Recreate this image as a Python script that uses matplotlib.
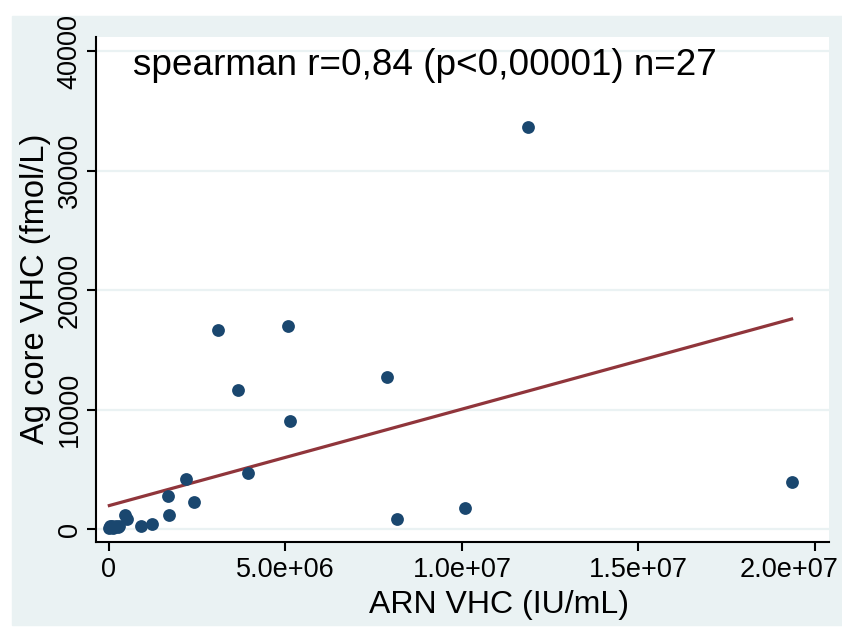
import matplotlib
matplotlib.use("Agg")
import matplotlib.pyplot as plt
from matplotlib.patches import Rectangle
from matplotlib.transforms import ScaledTranslation

plt.rcParams['font.family'] = ['Liberation Sans', 'DejaVu Sans']

# ARN VHC (IU/mL, millions) vs Ag core VHC (fmol/L, thousands)
arn_mio = [11.88, 19.34, 3.10, 5.07, 3.65, 7.88, 5.13, 3.95, 2.17,
           1.68, 2.41, 1.71, 1.21, 0.90, 0.45, 0.50, 8.17, 10.08,
           0.01, 0.03, 0.06, 0.09, 0.12, 0.15, 0.20, 0.25, 0.28]
ag_k = [33.64, 3.94, 16.69, 17.03, 11.64, 12.78, 9.10, 4.69, 4.25,
        2.81, 2.31, 1.19, 0.44, 0.25, 1.19, 0.86, 0.86, 1.76,
        0.12, 0.25, 0.18, 0.30, 0.15, 0.22, 0.28, 0.20, 0.31]

# fitted line
fit_x_mio = [0.01, 19.34]
fit_y_k = [1.99, 17.60]

x_ticks = [0, 5e6, 1e7, 1.5e7, 2e7]
x_ticklabels = ['0', '5.0e+06', '1.0e+07', '1.5e+07', '2.0e+07']
y_ticks = [0, 10000, 20000, 30000, 40000]
y_ticklabels = ['0', '10000', '20000', '30000', '40000']

stat_text = "spearman r=0,84 (p<0,00001) n=27"

x = [v * 1e6 for v in arn_mio]
y = [v * 1e3 for v in ag_k]

fig = plt.figure(figsize=(8.42, 6.32), dpi=100)
fig.patch.set_facecolor('white')
fig.patches.append(Rectangle((12 / 842, 1 - 625 / 632), 830 / 842, 609 / 632,
                             transform=fig.transFigure, color='#EAF2F3', zorder=-1))

ax = fig.add_axes([96 / 842, 1 - 541.5 / 632, 733 / 842, 504.5 / 632])
ax.set_facecolor('white')

ax.scatter(x, y, s=85, color='#1A476F', linewidths=0, zorder=3)
ax.plot([v * 1e6 for v in fit_x_mio], [v * 1e3 for v in fit_y_k],
        color='#90353B', lw=2.3, zorder=2)

ax.set_xlim(-0.368e6, 20.40e6)
ax.set_ylim(-1020, 41200)

ax.set_xticks(x_ticks, x_ticklabels)
ax.set_yticks(y_ticks, y_ticklabels)
ax.tick_params(axis='both', direction='out', length=6.5, width=1.5,
               labelsize=19.5, color='black')
ax.tick_params(axis='x', pad=5)
ax.tick_params(axis='y', pad=3, labelrotation=90)
for lab in ax.get_yticklabels():
    lab.set_va('center')

ax.yaxis.grid(True, color='#EAF2F3', lw=1.6)
ax.set_axisbelow(True)

for side in ['top', 'right']:
    ax.spines[side].set_visible(False)
for side in ['left', 'bottom']:
    ax.spines[side].set_linewidth(1.5)

ax.set_xlabel("ARN VHC (IU/mL)", fontsize=23, labelpad=5)
ax.xaxis.label.set_x((499 - 96) / 733)
ax.set_ylabel("Ag core VHC (fmol/L)", fontsize=23.5, labelpad=4)

ax.text(0.0505, 0.9247, stat_text, transform=ax.transAxes,
        fontsize=26.6, va='baseline', ha='left')

# last x tick label sits shifted left so it stays inside the figure
last = ax.get_xticklabels()[-1]
last.set_transform(last.get_transform() + ScaledTranslation(-25.5 / 100, 0, fig.dpi_scale_trans))

fig.savefig("out.png", dpi=100, facecolor=fig.get_facecolor())
